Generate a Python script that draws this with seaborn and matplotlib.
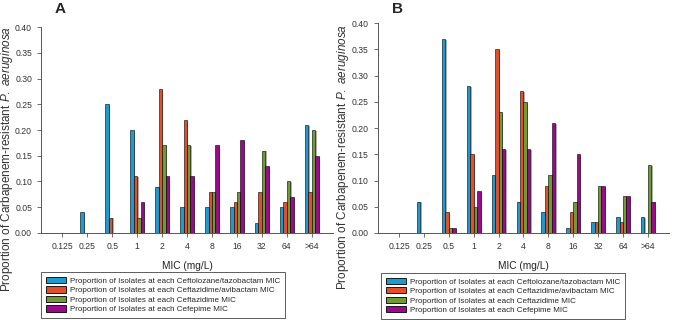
import numpy as np
import pandas as pd
import matplotlib
matplotlib.use("Agg")
import matplotlib.pyplot as plt
import matplotlib.patheffects as pe
import seaborn as sns

# MIC categories on the x axis
mic_labels = ["0.125", "0.25", "0.5", "1", "2", "4", "8", "16", "32", "64", ">64"]

drugs = [
    "Proportion of Isolates at each Ceftolozane/tazobactam MIC",
    "Proportion of Isolates at each Ceftazidime/avibactam MIC",
    "Proportion of Isolates at each Ceftazidime MIC",
    "Proportion of Isolates at each Cefepime MIC",
]
colors = ["#1c9bd0", "#e0502a", "#6f9a34", "#9b0a8c"]

# Panel A values (None = no bar)
a_tol = [None, 0.04, 0.25, 0.20, 0.09, 0.05, 0.05, 0.05, 0.02, 0.05, 0.21]
a_avi = [None, None, 0.03, 0.11, 0.28, 0.22, 0.08, 0.06, 0.08, 0.06, 0.08]
a_caz = [None, None, None, 0.03, 0.17, 0.17, 0.08, 0.08, 0.16, 0.10, 0.20]
a_fep = [None, None, None, 0.06, 0.11, 0.11, 0.17, 0.18, 0.13, 0.07, 0.15]

# Panel B values
b_tol = [None, 0.06, 0.37, 0.28, 0.11, 0.06, 0.04, 0.01, 0.02, 0.03, 0.03]
b_avi = [None, None, 0.04, 0.15, 0.35, 0.27, 0.09, 0.04, 0.02, 0.02, None]
b_caz = [None, None, 0.01, 0.05, 0.23, 0.25, 0.11, 0.06, 0.09, 0.07, 0.13]
b_fep = [None, None, 0.01, 0.08, 0.16, 0.16, 0.21, 0.15, 0.09, 0.07, 0.06]


def long_form(series):
    rows = []
    for drug, vals in zip(drugs, series):
        for mic, v in zip(mic_labels, vals):
            if v is not None:
                rows.append({"MIC": mic, "Drug": drug, "Proportion": v})
    return pd.DataFrame(rows)


df_a = long_form([a_tol, a_avi, a_caz, a_fep])
df_b = long_form([b_tol, b_avi, b_caz, b_fep])

sns.set_theme(style="ticks")
plt.rcParams["font.family"] = ["Liberation Sans", "DejaVu Sans"]
plt.rcParams["mathtext.fontset"] = "custom"
plt.rcParams["mathtext.rm"] = "Liberation Sans"
plt.rcParams["mathtext.it"] = "Liberation Sans:italic"

fig = plt.figure(figsize=(6.76, 3.2), dpi=100)
ax_a = fig.add_axes([0.0607, 0.2719, 0.432, 0.6437])
ax_b = fig.add_axes([0.559, 0.2719, 0.4306, 0.656])

shadow = [pe.SimplePatchShadow(offset=(1.0, -0.6), shadow_rgbFace="#9a9a9a", alpha=0.8), pe.Normal()]
grey = "#555555"

panels = [(ax_a, df_a, "A", -0.09, 1.068, 0.0), (ax_b, df_b, "B", -0.093, 1.048, 0.01)]
for ax, df, tag, labx, tagy, legx in panels:
    sns.barplot(data=df, x="MIC", y="Proportion", hue="Drug", order=mic_labels,
                hue_order=drugs, palette=colors, saturation=1, width=0.55, ax=ax,
                edgecolor="black", linewidth=0.4, errorbar=None, legend=True)
    for p in ax.patches:
        p.set_path_effects(shadow)
    ax.set_xlim(-0.85, 10.85)
    ax.set_ylim(0, 0.40)
    ax.set_yticks(np.arange(0, 0.401, 0.05))
    ax.set_yticklabels([f"{v:.2f}" for v in np.arange(0, 0.401, 0.05)])
    ax.tick_params(axis="both", labelsize=6.2, colors=grey, labelcolor="#333333",
                   length=3, width=0.6)
    for s in ["left", "bottom"]:
        ax.spines[s].set_color(grey)
        ax.spines[s].set_linewidth(0.7)
    sns.despine(ax=ax)
    ax.set_xlabel("MIC (mg/L)", fontsize=7.3, color="#222222", labelpad=7)
    ax.set_ylabel(r"Proportion of Carbapenem-resistant $\it{P.\ aeruginosa}$",
                  fontsize=8.5, color="#333333")
    ax.yaxis.set_label_coords(labx, 0.36)
    ax.text(0.048, tagy, tag, transform=ax.transAxes, fontsize=11,
            fontweight="bold", ha="left", va="baseline")
    leg = ax.legend(loc="upper left", bbox_to_anchor=(legx, -0.19), fontsize=5.8,
                    frameon=True, fancybox=False, handlelength=2.5, handleheight=0.8,
                    labelspacing=0.2, borderpad=0.6, handletextpad=0.5,
                    borderaxespad=0)
    leg.get_frame().set_edgecolor("#333333")
    leg.get_frame().set_linewidth(0.7)
    for h in leg.legend_handles:
        h.set_path_effects([])
        h.set_edgecolor("black")
        h.set_linewidth(0.6)

fig.savefig("out.png", dpi=100)
